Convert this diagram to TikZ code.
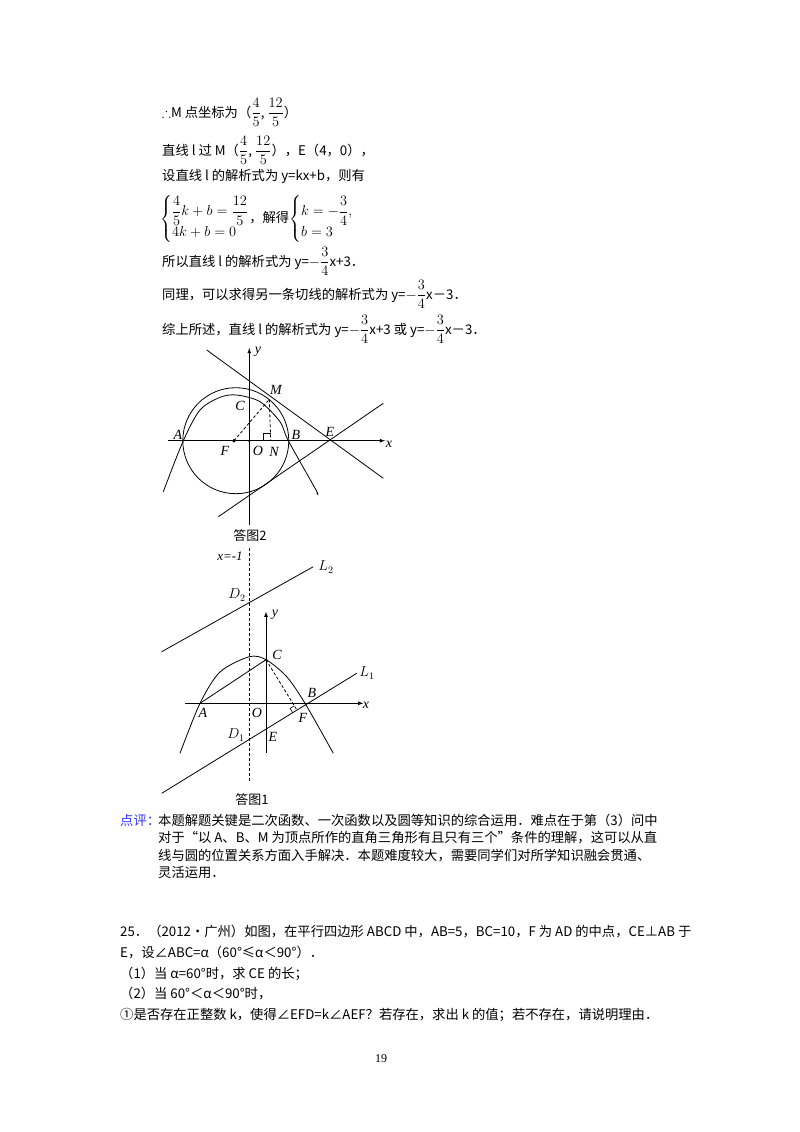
\documentclass[tikz,border=0pt]{standalone}
\usepackage{amsmath,amssymb}
\usepackage{fontspec}
\setmainfont{Liberation Serif}
\newfontfamily\cjk{Noto Sans CJK SC}
\usetikzlibrary{calc}
\tikzset{
  txt/.style={anchor=base west,inner sep=0pt,font=\fontsize{13.3}{16}\selectfont\cjk},
  lbl/.style={inner sep=0pt,font=\fontsize{14}{16}\selectfont\itshape},
  captxt/.style={inner sep=0pt,font=\fontsize{13}{15}\selectfont\cjk},
  ln/.style={line width=0.8pt},
  ax/.style={line width=0.8pt,-latex},
  dsh/.style={line width=0.8pt,dash pattern=on 3pt off 2pt},
  dot/.style={circle,fill,inner sep=1.3pt}
}
\begin{document}
\begin{tikzpicture}[x=1pt,y=-1pt]
\fill[white] (0,0) rectangle (800,1132);
\useasboundingbox (0,0) rectangle (800,1132);
\node[txt] (t1) at (162,117) {$\therefore$M 点坐标为（$\dfrac{4}{5}$, $\dfrac{12}{5}$）};
\node[txt] (t2) at (162,155) {直线 l 过 M（$\dfrac{4}{5}$, $\dfrac{12}{5}$），E（4，0），};
\node[txt] (t3) at (162,180) {设直线 l 的解析式为 y=kx+b，则有};
\node[txt,anchor=west] (t4) at (160,219) {$\left\{\begin{array}{@{}l@{}}\dfrac{4}{5}k+b=\dfrac{12}{5}\\[5pt] 4k+b=0\end{array}\right.$，解得$\left\{\begin{array}{@{}l@{}}k=-\dfrac{3}{4},\\[5pt] b=3\end{array}\right.$};
\node[txt] (t5) at (162,266) {所以直线 l 的解析式为 y=$-\dfrac{3}{4}$x+3．};
\node[txt] (t6) at (162,299) {同理，可以求得另一条切线的解析式为 y=$-\dfrac{3}{4}$x－3．};
\node[txt] (t7) at (162,334) {综上所述，直线 l 的解析式为 y=$-\dfrac{3}{4}$x+3 或 y=$-\dfrac{3}{4}$x－3．};
\coordinate (O2) at (249.3,440.7);
\coordinate (F2) at (234,440.7);
\coordinate (M2) at (269.3,399.3);
\coordinate (N2) at (270.7,440.7);
\draw[ax] (168,440.7) -- (385,440.7);
\draw[ax] (249.3,525) -- (249.3,348);
\draw[ln] (235.8,440.7) circle (53);
\draw[ln] plot[smooth] coordinates {(163.3,491.7) (183.3,440.7) (200,410) (220,397.3) (236.7,395) (260,401.7) (280,421.7) (288.3,440.7) (316,490) (316.7,493.3)};
\draw[ln] (206.7,350) -- (383.3,478.3);
\draw[ln] (218.3,516.7) -- (383.3,403.3);
\draw[dsh] (F2) -- (M2);
\draw[dsh] (M2) -- (N2);
\draw[line width=0.6pt] (263.7,440.7) -- (263.7,433.7) -- (270.7,433.7);
\node[dot] (f2d) at (F2) {};
\node[dot,inner sep=1pt] (o2d) at (O2) {};
\node[lbl] at (258,352) {y};
\node[lbl] at (178,435) {A};
\node[lbl] at (240,406) {C};
\node[lbl] at (276,390) {M};
\node[lbl] at (296,435) {B};
\node[lbl] at (330,432) {E};
\node[lbl] at (225,451) {F};
\node[lbl] at (258,451) {O};
\node[lbl] at (274,452) {N};
\node[lbl] at (389,444) {x};
\node[captxt] at (250,536) {答图2};
\draw[dsh] (249.3,548) -- (249.3,782);
\node[font=\fontsize{13}{15}\selectfont\itshape,inner sep=0pt] at (230,556) {x=-1};
\draw[ax] (185,703.3) -- (363.3,703.3);
\draw[ax] (266,753) -- (266,611.7);
\coordinate (L1a) at (161.7,793.3);
\coordinate (L1b) at (356.7,673.3);
\draw[ln] (161.7,651.7) -- (313.3,566.7);
\draw[ln] (L1a) -- (L1b);
\draw[ln] plot[smooth] coordinates {(180,753.3) (200,703.3) (220,672) (249.3,656.7) (266,659.7) (286.7,676.7) (305,703.3) (333.3,753.3)};
\coordinate (C1) at (266,659.7);
\coordinate (A1) at (200,703.3);
\coordinate (F1) at ($(L1a)!(C1)!(L1b)$);
\coordinate (R1) at ($(F1)!5pt!(C1)$);
\coordinate (R2) at ($(F1)!5pt!(L1a)$);
\draw[ln] (A1) -- (C1);
\draw[dsh] (C1) -- (F1);
\draw[line width=0.6pt] (R1) -- ($(R1)+(R2)-(F1)$) -- (R2);
\node[dot,inner sep=1pt] at (C1) {};
\node[lbl] at (326,567) {$L_2$};
\node[lbl] at (367,673) {$L_1$};
\node[lbl] at (237,595) {$D_2$};
\node[lbl] at (275,615) {y};
\node[lbl] at (277,655) {C};
\node[lbl] at (312,693) {B};
\node[lbl] at (203,713) {A};
\node[lbl] at (257,713) {O};
\node[lbl] at (303,718) {F};
\node[lbl] at (236,735) {$D_1$};
\node[lbl] at (273,737) {E};
\node[lbl] at (366,705) {x};
\node[captxt] at (252,800) {答图1};
\node[txt,text=blue!80!white] (dp) at (120,825) {点评：};
\node[txt] (b1) at (158,825) {本题解题关键是二次函数、一次函数以及圆等知识的综合运用．难点在于第（3）问中};
\node[txt] (b2) at (158,842) {对于“以 A、B、M 为顶点所作的直角三角形有且只有三个”条件的理解，这可以从直};
\node[txt] (b3) at (158,860) {线与圆的位置关系方面入手解决．本题难度较大，需要同学们对所学知识融会贯通、};
\node[txt] (b4) at (158,877) {灵活运用．};
\node[txt] (q1) at (120,936) {25．（2012•广州）如图，在平行四边形 ABCD 中，AB=5，BC=10，F 为 AD 的中点，CE⊥AB 于};
\node[txt] (q2) at (120,957) {E，设∠ABC=α（60°≤α＜90°）．};
\node[txt] (q3) at (120,978) {（1）当 α=60°时，求 CE 的长；};
\node[txt] (q4) at (120,998) {（2）当 60°＜α＜90°时，};
\node[txt] (q5) at (120,1019) {①是否存在正整数 k，使得∠EFD=k∠AEF？若存在，求出 k 的值；若不存在，请说明理由．};
\node[inner sep=0pt,font=\fontsize{12}{14}\selectfont] at (381,1059) {19};
\end{tikzpicture}
\end{document}
